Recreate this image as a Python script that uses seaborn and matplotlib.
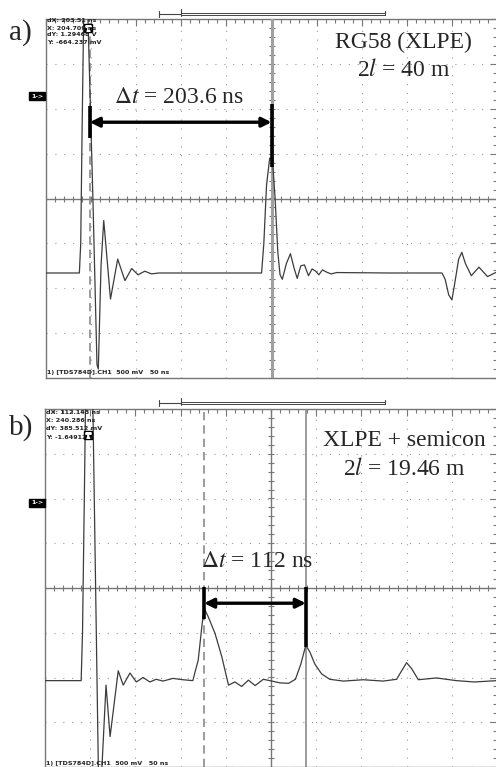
import numpy as np
import pandas as pd
import matplotlib
matplotlib.use("Agg")
import matplotlib.pyplot as plt
import seaborn as sns

# trace a) RG58 (XLPE): time [ns], voltage [V]  (50 ns/div, 500 mV/div)
a_t = [0, 37, 38.5, 40, 42, 46, 52, 56.5, 58, 61, 64, 71.5, 79.5, 87.5, 95, 102,
       109.5, 117, 125, 175, 239, 241.5, 244.5, 248, 251, 254, 257, 259.5, 262,
       266.5, 271, 275, 278.5, 282.5, 286.5, 291, 295, 299, 302.5, 306.5, 311,
       316, 322.5, 380, 439, 442.5, 446.5, 450, 453.5, 457.5, 461, 465, 471.5,
       480, 489.5, 497.5, 500]
a_v = [-0.83, -0.83, -0.5, 0.75, 2.2, 2.2, 0.0, -1.85, -1.9, -0.75, -0.245, -1.12,
       -0.675, -0.915, -0.78, -0.85, -0.81, -0.84, -0.83, -0.83, -0.83, -0.5, 0.15,
       0.45, 0.44, 0.0, -0.6, -0.85, -0.9, -0.725, -0.615, -0.775, -0.89, -0.75,
       -0.74, -0.86, -0.785, -0.81, -0.85, -0.795, -0.82, -0.84, -0.825, -0.83,
       -0.83, -0.9, -1.075, -1.13, -0.925, -0.675, -0.6, -0.725, -0.86, -0.765,
       -0.87, -0.83, -0.82]

# trace b) XLPE + semicon
b_t = [0, 40, 41.5, 43.5, 45, 49, 53, 59, 61.5, 67.5, 72, 81, 86.5, 94, 101, 108.5,
       116, 123, 130.5, 141.5, 152.5, 163.5, 169.5, 173.5, 176, 180.5, 188, 195.5,
       203, 210, 217.5, 225, 232.5, 241.5, 251, 260, 269.5, 277, 283, 288.5, 293,
       298.5, 306, 315, 330, 352, 374, 389, 394.5, 400, 405.5, 413, 433, 455, 475,
       500]
b_v = [-1.035, -1.035, -0.5, 1.0, 2.2, 2.2, 2.0, -2.0, -2.3, -1.085, -1.66, -0.925,
       -1.085, -0.95, -1.05, -1.0, -1.05, -1.02, -1.04, -1.01, -1.025, -1.035,
       -0.805, -0.43, -0.225, -0.32, -0.505, -0.765, -1.085, -1.05, -1.1, -1.03,
       -1.09, -1.02, -1.04, -1.06, -1.065, -1.02, -0.85, -0.64, -0.715, -0.85,
       -0.96, -1.02, -1.04, -1.025, -1.04, -1.02, -0.925, -0.835, -0.9, -1.025,
       -1.005, -1.035, -1.05, -1.035]

# cursor pairs (ns) and measured delays
a_cursors = [48.5, 250]
b_cursors = [176, 288.5]
a_title = ["RG58 (XLPE)", r"2$l$ = 40 m"]
b_title = ["XLPE + semicon", r"2$l$ = 19.46 m"]
a_dt = r"$\Delta t$ = 203.6 ns"
b_dt = r"$\Delta t$ = 112 ns"
a_readout = ["dX: 203.51 ns", "X: 204.709 ns", "dY: 1.29468 V", "Y: -664.237 mV"]
b_readout = ["dX: 112.143 ns", "X: 240.286 ns", "dY: 385.512 mV", "Y: -1.64912 V"]
footer = "1) [TDS784D].CH1  500 mV   50 ns"

sns.set_style("white")
plt.rcParams["font.family"] = ["Liberation Serif", "DejaVu Serif"]
plt.rcParams["mathtext.fontset"] = "stix"

W, H = 496, 767
fig = plt.figure(figsize=(W / 100, H / 100), dpi=100)

def add_px_axes(left, top, w, h):
    return fig.add_axes([left / W, 1 - (top + h) / H, w / W, h / H])

def scope(ax, t, v):
    df = pd.DataFrame({"t": t, "v": v})
    sns.lineplot(data=df, x="t", y="v", ax=ax, color="#3c3c3c", lw=0.9,
                 estimator=None, sort=False, zorder=4)
    ax.set_xlim(0, 500)
    ax.set_ylim(-2, 2)
    ax.set_xlabel("")
    ax.set_ylabel("")
    ax.xaxis.set_major_locator(matplotlib.ticker.MultipleLocator(50))
    ax.xaxis.set_minor_locator(matplotlib.ticker.MultipleLocator(10))
    ax.yaxis.set_major_locator(matplotlib.ticker.MultipleLocator(0.5))
    ax.yaxis.set_minor_locator(matplotlib.ticker.MultipleLocator(0.1))
    ax.tick_params(which="both", direction="in", top=True, right=True,
                   labelbottom=False, labelleft=False, color="#777777")
    ax.tick_params(which="major", length=5, width=0.8)
    ax.tick_params(which="minor", length=3, width=0.8)
    for s in ax.spines.values():
        s.set_color("#777777")
        s.set_linewidth(1.0)
    ax.grid(True, which="major", color="#9a9a9a", lw=0.8, ls=(0, (1, 7)))
    # centre graticule with small ticks
    ax.axhline(0, color="#777777", lw=1.0, zorder=2)
    ax.axvline(250, color="#777777", lw=1.0, zorder=2)
    xs = np.arange(0, 501, 10)
    ys = np.arange(-2, 2.01, 0.1)
    ax.plot(xs, np.zeros_like(xs), ls="none", marker="|", ms=5, mew=0.8,
            color="#777777", zorder=2)
    ax.plot(np.full_like(ys, 250), ys, ls="none", marker="_", ms=5, mew=0.8,
            color="#777777", zorder=2)

def bracket(ax, x0, x1, y, bar0, bar1):
    ax.annotate("", xy=(x1, y), xytext=(x0, y),
                arrowprops=dict(arrowstyle="<|-|>", color="black", lw=2.4,
                                mutation_scale=14, shrinkA=0, shrinkB=0), zorder=6)
    ax.plot([x0, x0], bar0, color="black", lw=2.6, zorder=6, solid_capstyle="butt")
    ax.plot([x1, x1], bar1, color="black", lw=2.6, zorder=6, solid_capstyle="butt")

# ---- panel a
ax1 = add_px_axes(46, 19, 451, 359)
scope(ax1, a_t, a_v)
ax1.axvline(a_cursors[0], color="#8a8a8a", lw=1.2, ls=(0, (5, 3)), zorder=3)
ax1.axvline(a_cursors[1], color="#a0a0a0", lw=2.2, zorder=3)
bracket(ax1, a_cursors[0], a_cursors[1], 0.85, [0.67, 1.03], [0.35, 1.05])
ax1.text(148, 1.13, a_dt, ha="center", va="center", fontsize=17)
ax1.text(396, 1.74, a_title[0], ha="center", va="center", fontsize=17)
ax1.text(396, 1.43, a_title[1], ha="center", va="center", fontsize=17)

# ---- panel b
ax2 = add_px_axes(45, 409, 452, 358)
scope(ax2, b_t, b_v)
ax2.axvline(b_cursors[0], color="#8a8a8a", lw=1.2, ls=(0, (5, 3)), zorder=3)
ax2.axvline(b_cursors[1], color="#8a8a8a", lw=1.2, zorder=3)
bracket(ax2, b_cursors[0], b_cursors[1], -0.17, [-0.35, 0.01], [-0.66, 0.01])
ax2.text(235, 0.3, b_dt, ha="center", va="center", fontsize=17)
ax2.text(398, 1.65, b_title[0], ha="center", va="center", fontsize=17)
ax2.text(398, 1.33, b_title[1], ha="center", va="center", fontsize=17)

# panel letters
fig.text(9 / W, 1 - 33 / H, "a)", fontsize=21, va="center", ha="left")
fig.text(9 / W, 1 - 428 / H, "b)", fontsize=21, va="center", ha="left")

# scope readouts
mono = dict(family="DejaVu Sans", fontsize=4.6, fontweight="bold", color="#222222")
for i, s in enumerate(a_readout):
    fig.text(47 / W, 1 - (21 + 7 * i) / H, s, va="center", **mono)
for i, s in enumerate(b_readout):
    fig.text(46 / W, 1 - (412 + 8.5 * i) / H, s, va="center", **mono)
fig.text(47 / W, 1 - 373 / H, footer, va="center", **mono)
fig.text(46 / W, 1 - 763 / H, footer, va="center", **mono)

# channel markers
for y in (96, 503):
    fig.text(31 / W, 1 - y / H, "1->", va="center", ha="left", color="white",
             family="DejaVu Sans", fontsize=4.5, fontweight="bold",
             bbox=dict(boxstyle="square,pad=0.25", fc="black", ec="black"))
# trigger markers (drawn as marker glyphs on a black square)
for x, y in ((88, 28), (88, 435)):
    fig.add_artist(plt.Line2D([x / W], [1 - y / H], marker="s", ms=6,
                              mfc="black", mec="black", ls="none"))
    fig.add_artist(plt.Line2D([x / W], [1 - y / H], marker=r"$\mathbf{T}$", ms=4,
                              mfc="white", mec="white", ls="none"))

# record-position bars above the screens
for y in (14, 403):
    yy = 1 - y / H
    c = "#444444"
    fig.add_artist(plt.Line2D([159 / W, 181 / W], [yy, yy], color=c, lw=0.8))
    fig.add_artist(plt.Line2D([181 / W, 385 / W], [yy + 1.2 / H, yy + 1.2 / H], color=c, lw=0.7))
    fig.add_artist(plt.Line2D([181 / W, 385 / W], [yy - 1.2 / H, yy - 1.2 / H], color=c, lw=0.7))
    fig.add_artist(plt.Line2D([159 / W, 159 / W], [yy - 3 / H, yy + 3 / H], color=c, lw=0.8))
    fig.add_artist(plt.Line2D([181 / W, 181 / W], [yy - 2 / H, yy + 5 / H], color=c, lw=0.8))
    fig.add_artist(plt.Line2D([385 / W, 385 / W], [yy - 1.2 / H, yy + 3 / H], color=c, lw=0.8))

fig.savefig("out.png", dpi=100)
